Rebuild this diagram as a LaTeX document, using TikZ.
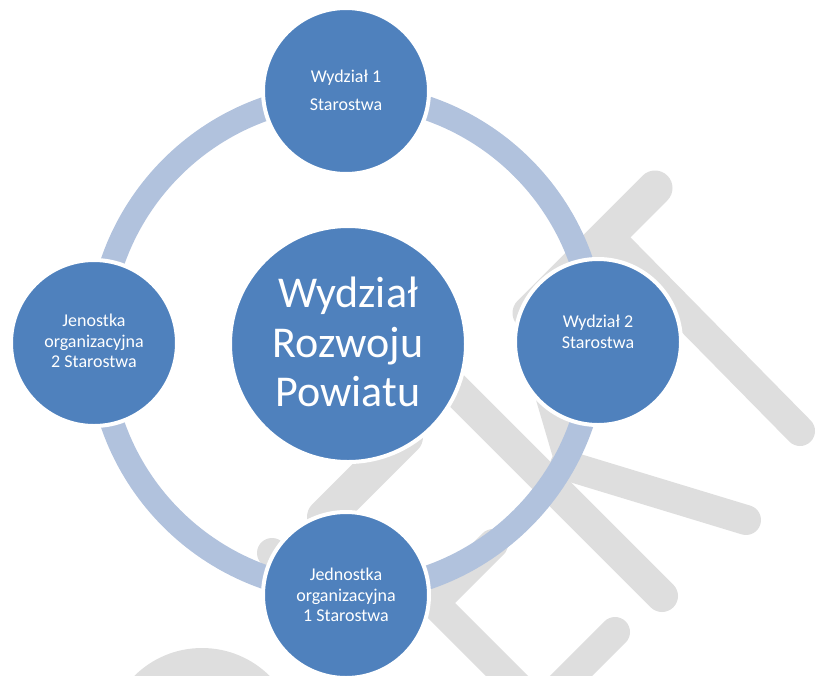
\documentclass[tikz,border=0pt]{standalone}
\usepackage{fontspec}
\setmainfont{Carlito}
\definecolor{smblue}{RGB}{79,129,189}
\definecolor{ringblue}{RGB}{177,194,221}
\definecolor{wmgray}{RGB}{222,222,222}
\tikzset{
  wm/.style={draw=wmgray, line width=30pt, line cap=round, line join=round},
  bubble/.style={circle, fill=smblue, draw=white, line width=4pt, inner sep=0pt},
  lbl/.style={text=white, align=center, inner sep=0pt, font=\fontsize{18}{20.5}\selectfont},
  biglbl/.style={text=white, align=center, inner sep=0pt, font=\fontsize{44}{49.3}\selectfont}
}
\begin{document}
\begin{tikzpicture}[x=1pt,y=-1pt]
\useasboundingbox (0,0) rectangle (819,675);
\clip (0,0) rectangle (819,675);
% watermark
\draw[wm, line width=35pt] (655,188) -- (530,313);
\draw[wm] (615,243) -- (800,431);
\fill[wmgray] (531,383) -- (572,395) -- (578,455) -- (556,468) -- cycle;
\draw[wm] (565,465) -- (746,520);
\draw[wm, line width=32pt] (440,374) -- (662,596);
\draw[wm, line width=36pt] (405,437) -- (325,517);
\draw[wm] (493,544) -- (434,603) -- (525,694);
\draw[wm] (615,632) -- (540,707);
\draw[wm] (272,553) -- (330,620);
\fill[wmgray] (202,744) circle (96);
% ring
\draw[ringblue, line width=24pt] (347,343) circle (248);
% circles
\node[bubble, minimum size=166pt] (top) at (346,91) {};
\node[bubble, minimum size=166pt] (right) at (598,342) {};
\node[bubble, minimum size=166pt] (bottom) at (346,595) {};
\node[bubble, minimum size=166pt] (left) at (94,343) {};
\node[bubble, minimum size=236pt] (center) at (348,344) {};
% labels
\node[lbl, font=\fontsize{18}{28}\selectfont] (ttop) at (346,90) {Wydział 1\\Starostwa};
\node[lbl] (tright) at (598,332) {Wydział 2\\Starostwa};
\node[lbl] (tleft) at (94,341) {Jenostka\\organizacyjna\\2 Starostwa};
\node[lbl] (tbottom) at (346,595) {Jednostka\\organizacyjna\\1 Starostwa};
\node[biglbl] (tcenter) at (348,342) {Wydział\\Rozwoju\\Powiatu};
\end{tikzpicture}
\end{document}
